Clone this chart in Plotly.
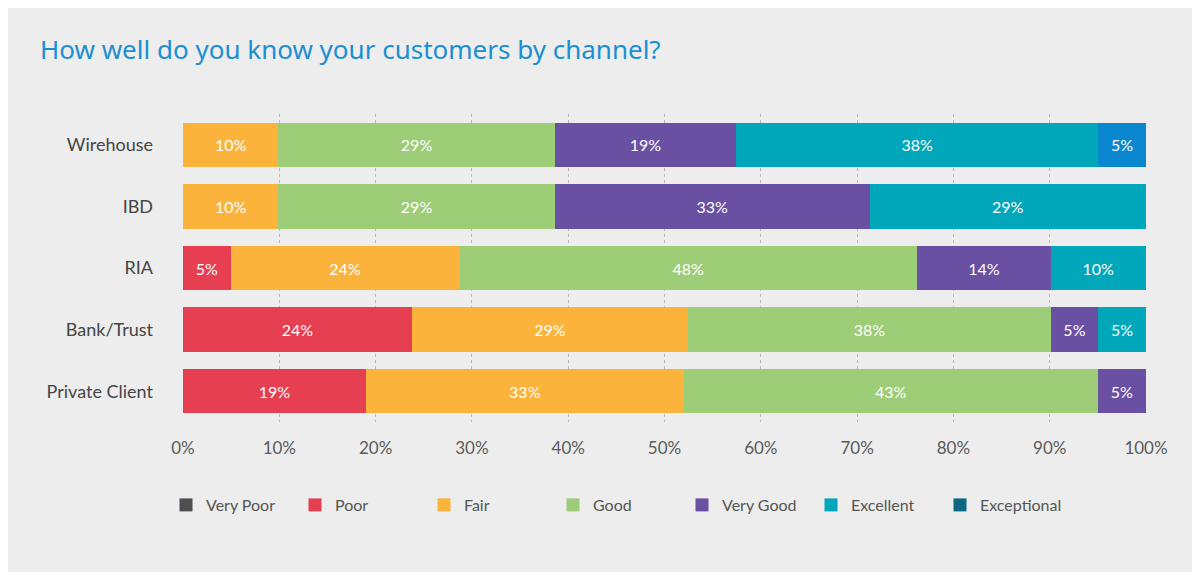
import plotly.graph_objects as go

channels = ["Wirehouse", "IBD", "RIA", "Bank/Trust", "Private Client"]
ratings = ["Very Poor", "Poor", "Fair", "Good", "Very Good", "Excellent", "Exceptional"]

# rounded percentages as printed; each row is normalised to 100% (barnorm)
very_poor = [0, 0, 0, 0, 0]
poor = [0, 0, 5, 24, 19]
fair = [10, 10, 24, 29, 33]
good = [29, 29, 48, 38, 43]
very_good = [19, 33, 14, 5, 5]
excellent = [38, 29, 10, 5, 0]
exceptional = [5, 0, 0, 0, 0]

series = [very_poor, poor, fair, good, very_good, excellent, exceptional]
legend_colors = ["#4e4d50", "#e63f51", "#fbb33b", "#9ecd78", "#6a50a2", "#00a6ba", "#0a6882"]
bar_colors = ["#4e4d50", "#e63f51", "#fbb33b", "#9ecd78", "#6a50a2", "#00a6ba", "#0a88cf"]

tick_vals = [0, 10, 20, 30, 40, 50, 60, 70, 80, 90, 100]
tick_text = ["0%", "10%", "20%", "30%", "40%", "50%", "60%", "70%", "80%", "90%", "100%"]

BG = "#ecedec"
LABEL_FONT = "Lato, Open Sans, sans-serif"

W, H = 1192, 571
ML, MR, MT, MB = 175, 54, 106, 157
PW, PH = W - ML - MR, H - MT - MB

fig = go.Figure()
for name, vals, col in zip(ratings, series, bar_colors):
    texts = [f"{v}%" if v > 0 else "" for v in vals]
    fig.add_trace(go.Bar(
        y=channels, x=vals, orientation="h", name=name,
        marker=dict(color=col, line=dict(width=0)),
        text=texts, textposition="inside", insidetextanchor="middle",
        textfont=dict(color="white", size=16, family=LABEL_FONT),
        showlegend=False, hoverinfo="text+name",
    ))

for name, col in zip(ratings, legend_colors):
    fig.add_trace(go.Scatter(
        x=[None], y=[None], mode="markers", name=name,
        marker=dict(symbol="square", size=13, color=col),
        showlegend=True,
    ))

fig.update_layout(
    width=W, height=H,
    barmode="stack", barnorm="percent", bargap=0.28,
    paper_bgcolor="white", plot_bgcolor=BG,
    margin=dict(l=ML, r=MR, t=MT, b=MB, autoexpand=False),
    title=dict(text="How well do you know your customers by channel?",
               x=32/W, xanchor="left", y=1-42/H, yanchor="middle",
               font=dict(size=26, color="#1b8fd2", family="Noto Sans, Lato, sans-serif")),
    xaxis=dict(range=[0, 100], tickvals=tick_vals, ticktext=tick_text,
               showgrid=True, gridcolor="#b8b8b8", griddash="dot", gridwidth=1,
               zeroline=False, showline=False, ticks="",
               tickfont=dict(size=17, color="#5a5a5a", family=LABEL_FONT),
               ticklabelstandoff=14, fixedrange=True),
    yaxis=dict(categoryorder="array", categoryarray=channels[::-1],
               showgrid=False, ticks="", showline=False,
               tickfont=dict(size=18, color="#454545", family=LABEL_FONT),
               ticklabelstandoff=29),
    legend=dict(orientation="h", traceorder="normal",
                x=158/W, xanchor="left", xref="container",
                y=1-497/H, yanchor="middle", yref="container",
                entrywidth=84, itemsizing="trace",
                font=dict(size=16, color="#555555", family=LABEL_FONT),
                bgcolor="rgba(0,0,0,0)"),
    shapes=[dict(type="rect", xref="paper", yref="paper",
                 x0=(0-ML)/PW, x1=(1185-ML)/PW,
                 y0=((H-564)-MB)/PH, y1=(H-MB)/PH,
                 fillcolor=BG, line=dict(width=0), layer="below")],
)

fig.write_html("out.html")
